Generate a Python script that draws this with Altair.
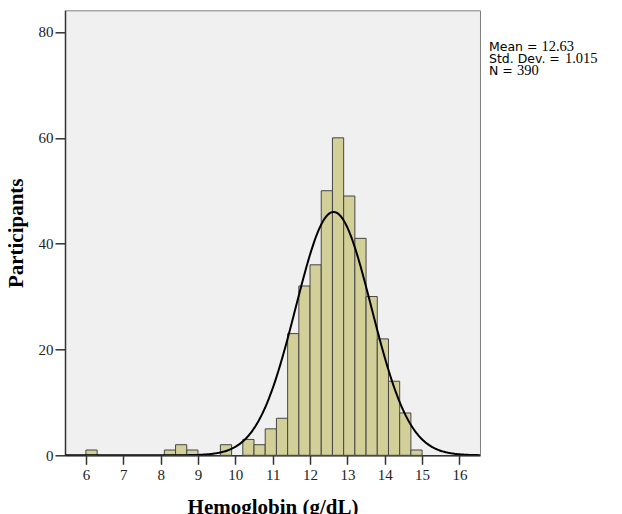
import altair as alt
import pandas as pd

# Histogram data (bin start, g/dL) and counts, bin width 0.3
bin_starts = [6.0, 8.1, 8.4, 8.7, 9.6, 10.2, 10.5, 10.8, 11.1, 11.4, 11.7,
              12.0, 12.3, 12.6, 12.9, 13.2, 13.5, 13.8, 14.1, 14.4, 14.7]
counts = [1, 1, 2, 1, 2, 3, 2, 5, 7, 23, 32, 36, 50, 60, 49, 41, 30, 22, 14, 8, 1]
bin_width = 0.3

# Summary statistics shown in the chart
mean_val = 12.63
sd_val = 1.015
n_val = 390
stat_labels = ["Mean =", "Std. Dev. =", "N ="]
stat_values = ["12.63", "1.015", "390"]

x_ticks = [6, 7, 8, 9, 10, 11, 12, 13, 14, 15, 16]
y_ticks = [0, 20, 40, 60, 80]

W, H = 415, 445
xdom = [5.44, 16.55]
ydom = [0, 84.1]

bars_df = pd.DataFrame({
    "start": bin_starts,
    "end": [round(s + bin_width, 2) for s in bin_starts],
    "count": counts,
})

xscale = alt.Scale(domain=xdom, nice=False, zero=False)
yscale = alt.Scale(domain=ydom, nice=False)

serif = "Liberation Serif"
sans = "DejaVu Sans"

bars = alt.Chart(bars_df).mark_rect(
    fill="#d3cf98", stroke="#454545", strokeWidth=1
).encode(
    x=alt.X("start:Q", scale=xscale,
            axis=alt.Axis(values=x_ticks, title="Hemoglobin (g/dL)", format="d",
                          tickSize=9, labelPadding=3, titleX=W / 2, titleY=58,
                          titleBaseline="alphabetic", titleAnchor="middle")),
    x2="end:Q",
    y=alt.Y("count:Q", scale=yscale,
            axis=alt.Axis(values=y_ticks, title="Participants", format="d",
                          tickSize=10, labelPadding=2, titleX=-43, titleY=H / 2,
                          titleBaseline="alphabetic", titleAlign="center",
                          titleAngle=-90)),
    y2=alt.datum(0),
)

curve = alt.Chart(alt.sequence(5.45, 16.55, 0.02, as_="x")).transform_calculate(
    y=f"{n_val} * {bin_width} * exp(-0.5 * pow((datum.x - {mean_val}) / {sd_val}, 2)) / ({sd_val} * sqrt(2 * PI))"
).mark_line(color="black", strokeWidth=2, clip=True).encode(
    x=alt.X("x:Q", scale=xscale),
    y=alt.Y("y:Q", scale=yscale),
)

layers = [bars, curve]
line_y = [40.5, 52.8, 65.1]
num_x = [476.5, 500, 452]
for i in range(3):
    layers.append(
        alt.Chart(pd.DataFrame({"t": [stat_labels[i]]})).mark_text(
            font=sans, fontSize=12.5, align="left", baseline="alphabetic", color="black"
        ).encode(x=alt.value(424), y=alt.value(line_y[i]), text="t:N")
    )
    layers.append(
        alt.Chart(pd.DataFrame({"t": [stat_values[i]]})).mark_text(
            font=serif, fontSize=14.5, align="left", baseline="alphabetic", color="black"
        ).encode(x=alt.value(num_x[i]), y=alt.value(line_y[i]), text="t:N")
    )

chart = alt.layer(*layers).properties(
    width=W, height=H,
    autosize=alt.AutoSizeParams(type="none"),
    padding={"left": 57, "top": 2.3, "right": 134, "bottom": 70},
    background="white",
).configure_view(
    fill="#f0f0f0", stroke="#808080", strokeWidth=1
).configure_axis(
    grid=False,
    labelFont=serif, labelFontSize=15, labelColor="#222",
    titleFont=serif, titleFontSize=21, titleFontWeight="bold", titleColor="black",
    domainColor="#333", domainWidth=1.5, tickColor="#333", tickWidth=1.5,
    labelFlush=False, labelOverlap=False,
)

chart.save("out.html", embed_options={"renderer": "svg", "actions": False})
